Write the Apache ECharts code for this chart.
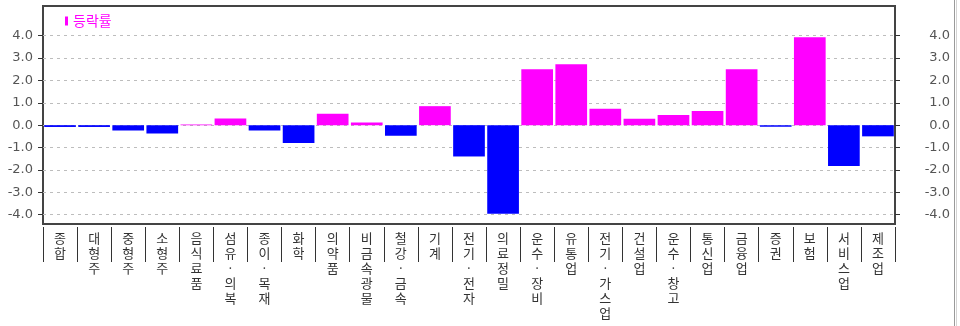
<!DOCTYPE html>
<html>
<head>
<meta charset="utf-8">
<script src="https://cdn.jsdelivr.net/npm/echarts@6/dist/echarts.min.js"></script>
<style>
  html, body { margin: 0; padding: 0; background: #fff; }
  #chart { width: 960px; height: 326px; }
</style>
</head>
<body>
<div id="chart"></div>
<script>
// 업종별 등락률 (%)
const categories = [
  '종합', '대형주', '중형주', '소형주', '음식료품', '섬유·의복', '종이·목재', '화학',
  '의약품', '비금속광물', '철강·금속', '기계', '전기·전자', '의료정밀', '운수·장비',
  '유통업', '전기·가스업', '건설업', '운수·창고', '통신업', '금융업', '증권', '보험',
  '서비스업', '제조업'
];
const changeRates = [
  -0.08, -0.08, -0.24, -0.37, 0.03, 0.30, -0.24, -0.80,
  0.51, 0.12, -0.47, 0.85, -1.40, -3.96, 2.50,
  2.72, 0.73, 0.29, 0.45, 0.63, 2.50, -0.07, 3.93,
  -1.83, -0.50
];
const tickValues = [-4, -3, -2, -1, 0, 1, 2, 3, 4];
const seriesName = '등락률';

const UP = '#ff00ff';
const DOWN = '#0000ff';
const NUM_FONT = 'DejaVu Sans';
const KR_FONT = 'Noto Sans CJK KR';

const barData = changeRates.map(v => ({
  value: v,
  itemStyle: { color: v >= 0 ? UP : DOWN }
}));

const chart = echarts.init(document.getElementById('chart'), null, { renderer: 'canvas' });

const yMin = -4.42, yMax = 5.33;

chart.setOption({
  animation: false,
  backgroundColor: '#fff',
  grid: {
    left: 43, right: 65, top: 6, bottom: 102,
    outerBoundsMode: 'none',
    show: true, borderColor: '#444', borderWidth: 2, backgroundColor: 'transparent'
  },
  legend: {
    left: 60, top: 9,
    data: [{ name: seriesName, itemStyle: { color: UP } }],
    icon: 'rect', itemWidth: 3, itemHeight: 9,
    textStyle: { color: UP, fontSize: 14, fontFamily: KR_FONT }
  },
  xAxis: {
    type: 'category',
    data: categories,
    offset: 3,
    axisLine: { show: false, onZero: false },
    axisTick: { show: true, length: 35, lineStyle: { color: '#333', width: 1 } },
    axisLabel: {
      interval: 0,
      margin: 4,
      color: '#333',
      fontSize: 13,
      lineHeight: 15,
      fontFamily: KR_FONT,
      verticalAlign: 'top',
      formatter: s => Array.from(s).join('\n')
    }
  },
  yAxis: [
    {
      type: 'value', min: yMin, max: yMax, position: 'left',
      axisLine: { show: false },
      axisTick: { show: true, length: 5, customValues: tickValues, lineStyle: { color: '#333' } },
      axisLabel: {
        customValues: tickValues, margin: 10, color: '#555', fontSize: 13, fontFamily: NUM_FONT,
        formatter: v => v.toFixed(1)
      },
      splitLine: { show: false }
    },
    {
      type: 'value', min: yMin, max: yMax, position: 'right',
      axisLine: { show: false },
      axisTick: { show: true, length: 5, customValues: tickValues, lineStyle: { color: '#333' } },
      axisLabel: {
        customValues: tickValues, margin: 55, align: 'right', color: '#555', fontSize: 13,
        fontFamily: NUM_FONT, formatter: v => v.toFixed(1)
      },
      splitLine: { show: false }
    }
  ],
  graphic: [
    { type: 'line', shape: { x1: 954.5, y1: 0, x2: 954.5, y2: 326 }, style: { stroke: '#9a9a9a', lineWidth: 1 } },
    { type: 'line', shape: { x1: 956.5, y1: 0, x2: 956.5, y2: 326 }, style: { stroke: '#d4d4d4', lineWidth: 1 } }
  ],
  series: [{
    name: seriesName,
    type: 'bar',
    yAxisIndex: 0,
    data: barData,
    barCategoryGap: '7%',
    itemStyle: { color: UP },
    z: 3,
    // dashed guide lines at each labelled value, kept behind the bars
    markLine: {
      silent: true,
      z: 1,
      symbol: 'none',
      label: { show: false },
      lineStyle: { color: '#bdbdbd', type: [3, 4], width: 1 },
      emphasis: { disabled: true },
      data: tickValues.map(v => ({ yAxis: v }))
    }
  }]
});
</script>
</body>
</html>
